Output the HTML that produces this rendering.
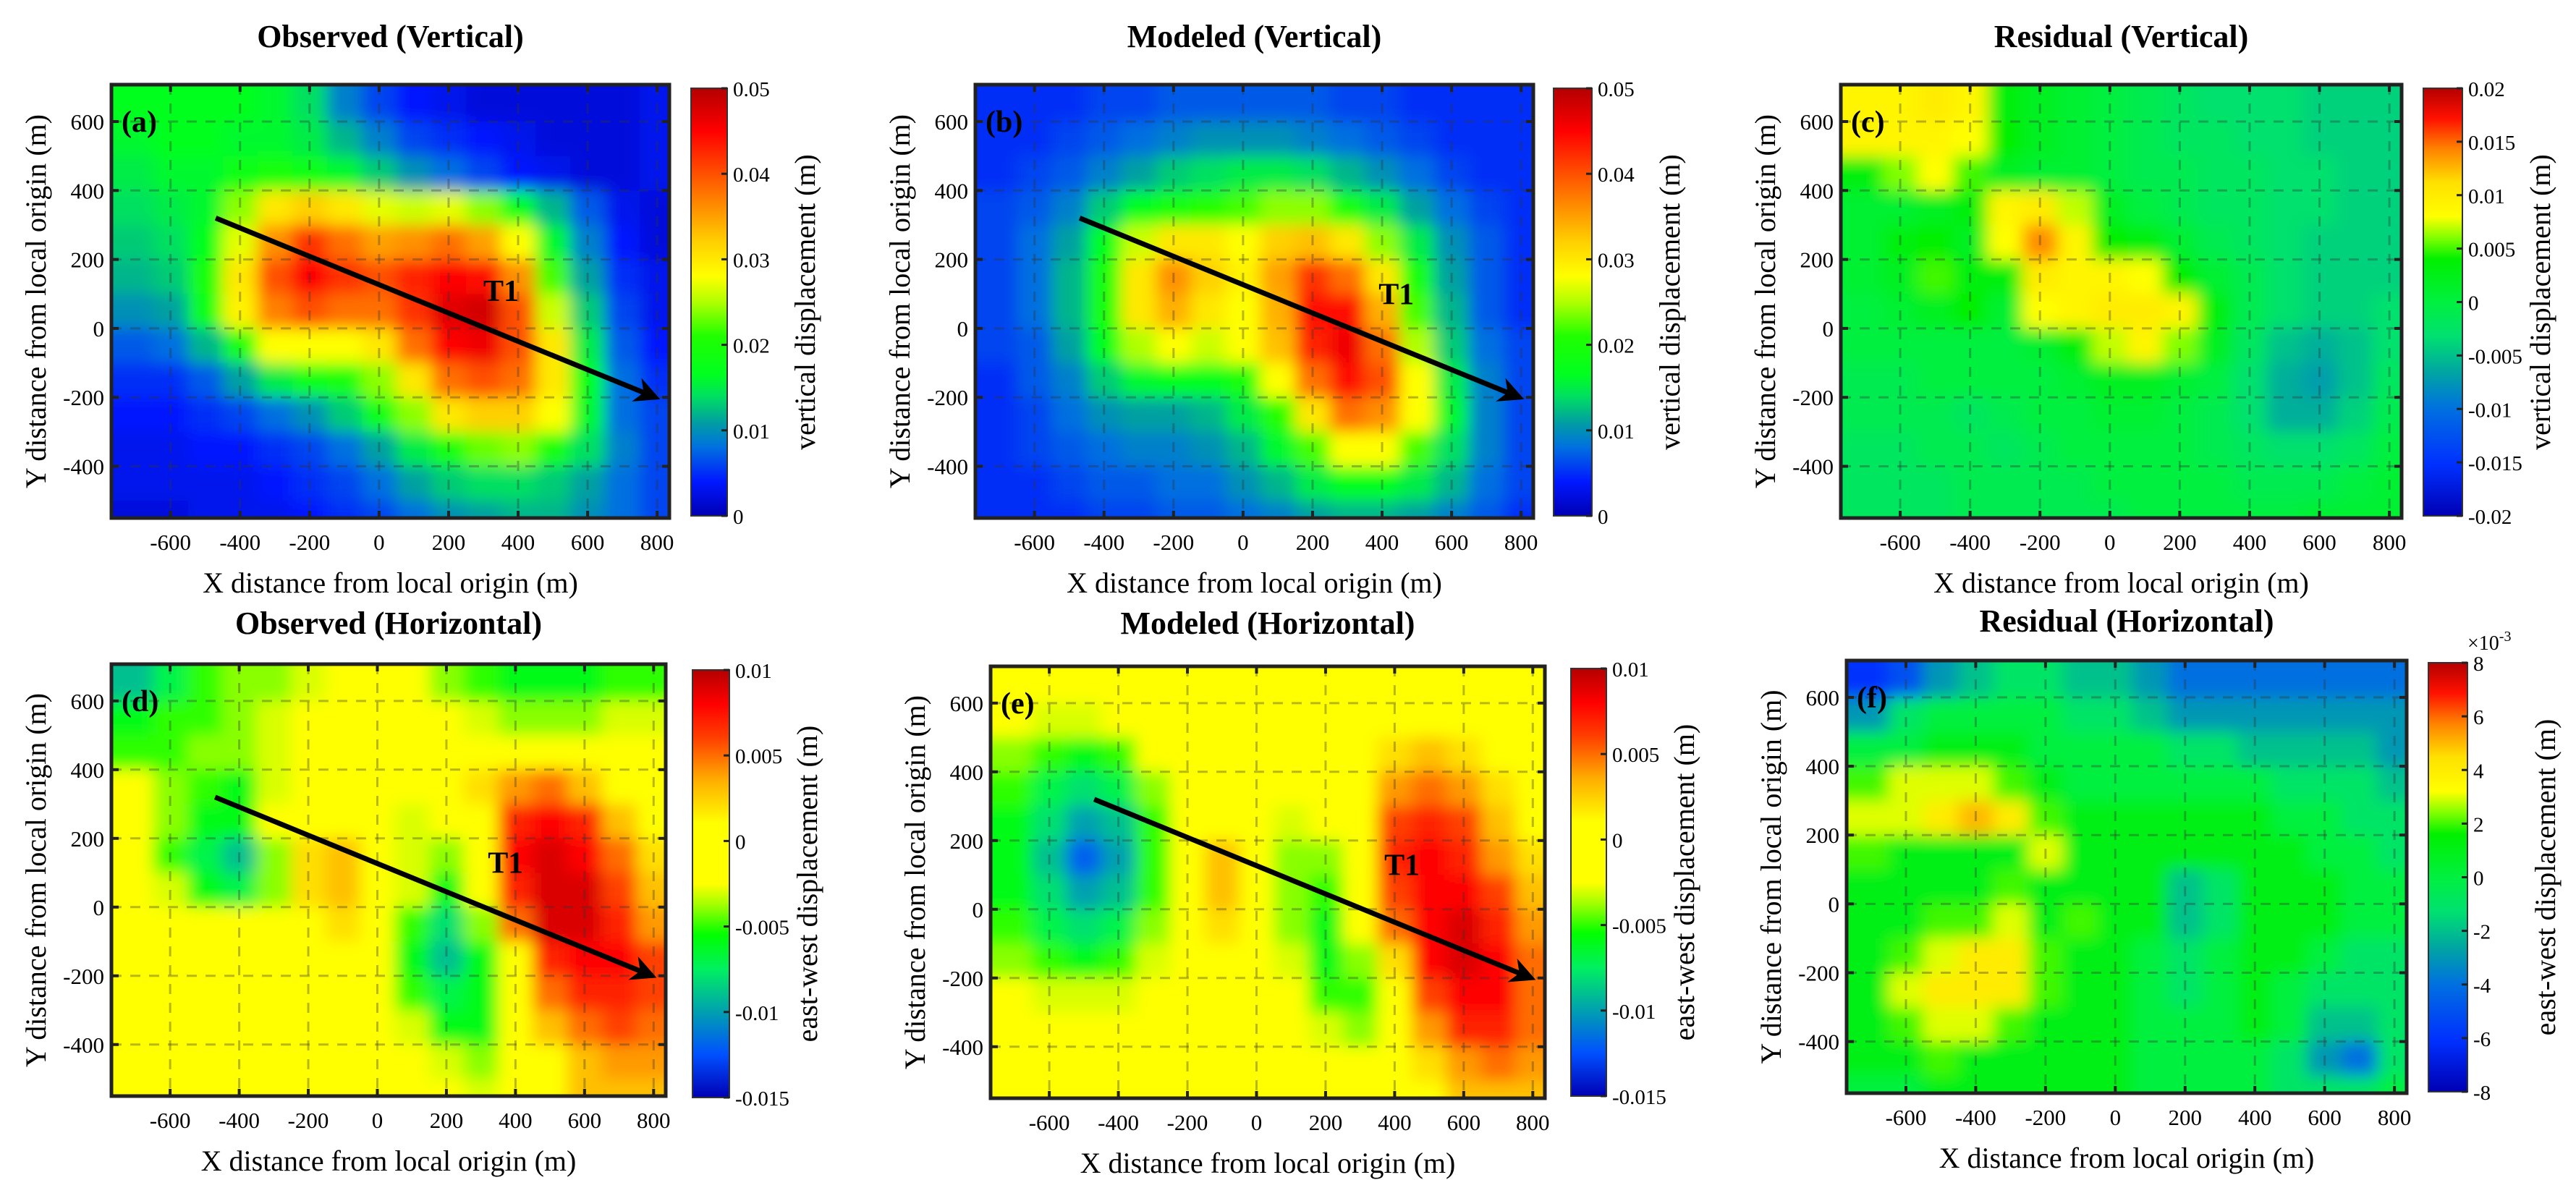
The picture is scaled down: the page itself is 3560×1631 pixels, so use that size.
<!DOCTYPE html>
<html><head><meta charset="utf-8">
<style>
html,body{margin:0;padding:0;background:#fff;}
svg{display:block;font-family:"Liberation Serif","DejaVu Serif",serif;}
</style></head>
<body>
<svg id="fig" width="3560" height="1631" viewBox="0 0 3560 1631" xmlns="http://www.w3.org/2000/svg">
<defs>
<filter id="blur" x="-5%" y="-5%" width="110%" height="110%"><feGaussianBlur stdDeviation="11"/></filter>
<marker id="ah" viewBox="0 0 10 10" refX="8" refY="5" markerWidth="5" markerHeight="5" orient="auto"><path d="M0,0 L10,5 L0,10 L3,5 z" fill="#000"/></marker>
</defs>
</svg>
<script>
// ---- data (cell centres in metres) ----
const xCenters = [-700,-600,-500,-400,-300,-200,-100,0,100,200,300,400,500,600,700,800];
const yCenters = [650,550,450,350,250,150,50,-50,-150,-250,-350,-450,-550];
const xTicks = [-600,-400,-200,0,200,400,600,800];
const yTicks = [-400,-200,0,200,400,600];
// values in mm (×1e-3 m)
const obsVert = [
[17,17,17,17,16,14,9,6,4,3,2,2,2,2,2,3],
[16,17,17,16,16,15,12,9,6,5,4,3,2,2,2,3],
[15,16,16,18,20,18,16,13,10,8,6,4,3,2,2,3],
[14,15,16,24,30,32,30,27,26,27,24,17,12,7,3,2],
[13,14,17,27,36,42,38,35,36,38,35,28,16,9,4,2],
[12,13,20,30,40,45,42,40,43,45,44,36,22,11,5,3],
[10,11,18,29,37,40,38,38,42,47,48,40,26,13,6,3],
[7,8,12,20,28,28,28,30,38,45,46,40,30,15,7,4],
[5,5,7,11,15,18,20,24,30,38,40,38,30,17,8,5],
[4,4,5,6,8,10,13,18,24,30,32,32,28,16,8,6],
[3,3,4,4,5,6,8,11,15,20,23,24,20,14,9,6],
[3,3,3,3,4,5,6,8,11,13,14,14,13,11,8,6],
[2,2,3,3,3,4,5,6,8,10,11,12,12,10,8,6]];
const modVert = [
[5,5,5,6,6,7,7,7,7,7,6,6,5,5,5,5],
[5,5,6,7,8,9,10,10,10,9,8,7,6,5,5,5],
[5,6,7,9,11,13,14,15,15,14,12,10,8,6,5,5],
[6,7,9,13,17,20,21,22,24,24,20,15,11,8,6,5],
[6,8,11,17,26,30,30,28,32,33,30,24,15,10,7,5],
[6,8,12,20,30,36,32,29,35,42,38,30,19,11,7,5],
[6,8,12,20,30,34,30,28,34,44,44,34,22,12,7,5],
[6,7,11,17,25,28,26,28,33,43,46,38,25,13,8,6],
[5,7,9,13,16,17,17,20,28,38,44,40,28,15,9,6],
[5,6,8,10,11,11,12,15,21,30,38,36,28,16,9,6],
[5,6,7,8,9,9,10,12,16,22,28,28,22,14,9,6],
[5,5,6,7,7,8,8,10,12,15,17,17,15,12,8,6],
[5,5,5,6,6,7,7,8,9,11,12,12,11,9,7,5]];
const resVert = [
[9,9,10,9,3,2,1,0,-1,-2,-3,-3,-3,-4,-4,-4],
[9,9,9,8,4,2,1,0,-1,-2,-2,-3,-3,-4,-4,-4],
[3,6,8,5,2,1,1,0,-1,-1,-2,-2,-3,-3,-4,-4],
[1,1,2,3,9,10,7,2,0,-1,-2,-2,-3,-3,-4,-4],
[1,3,4,2,8,14,9,4,3,1,-1,-2,-3,-4,-4,-4],
[1,2,5,3,3,10,9,9,8,4,1,-1,-3,-4,-4,-4],
[0,1,2,4,1,8,9,10,10,9,3,-1,-3,-4,-4,-3],
[0,0,0,0,0,1,3,7,9,6,2,-2,-5,-6,-5,-3],
[-1,-1,0,0,0,0,1,2,2,1,0,-3,-6,-7,-5,-2],
[-1,-1,-1,-2,-1,0,0,1,1,0,-1,-3,-6,-6,-4,-1],
[-2,-2,-1,-1,-2,-1,0,0,0,0,-1,-2,-3,-3,-2,0],
[-2,-2,-2,-1,-1,-1,-1,0,0,0,0,-1,-1,-1,0,1],
[-2,-2,-2,-1,-1,-1,-1,-1,0,0,0,0,0,1,1,1]];
const obsHoriz = [
[-9,-7,-5,-4,-4,-3,-2,-1,-2,-4,-5,-6,-6,-6,-5,-5],
[-6,-5,-5,-4,-3,-2,-1,-1,-1,-2,-3,-4,-4,-4,-3,-3],
[-5,-5,-4,-4,-3,-1,-1,0,0,-1,0,1,-1,-2,-2,-2],
[-1,-4,-5,-6,-3,-1,-1,-2,-1,0,2,4,5,3,0,-1],
[-1,-4,-6,-6,-2,1,0,-2,-3,-2,1,7,8,7,3,0],
[-2,-5,-7,-9,-4,2,3,-1,-3,-4,0,8,9,8,5,2],
[-1,-3,-6,-7,-4,2,3,0,-3,-6,-2,7,9,9,6,3],
[0,-1,-2,-2,0,1,2,-1,-5,-8,-4,5,9,9,7,4],
[0,0,0,0,0,0,0,-1,-6,-9,-6,1,7,8,8,6],
[0,0,1,1,1,0,0,-1,-5,-7,-6,-1,5,7,7,6],
[0,0,0,1,0,0,0,0,-3,-6,-6,-2,3,5,6,5],
[0,0,0,0,0,0,0,0,-1,-3,-4,-2,1,3,4,4],
[0,0,0,0,0,0,0,0,0,-1,-3,-1,1,3,3,3]];
const modHoriz = [
[0,0,0,0,0,0,0,0,0,0,0,0,0,0,0,0],
[-2,-3,-3,-2,-1,0,0,0,0,0,0,1,1,1,0,0],
[-4,-5,-6,-5,-2,0,0,0,0,0,0,2,3,2,1,0],
[-5,-7,-8,-7,-4,0,0,0,-1,-1,1,4,5,4,2,1],
[-6,-8,-10,-9,-5,0,1,0,-3,-2,1,6,7,6,3,1],
[-6,-9,-12,-10,-5,0,3,0,-4,-4,0,7,8,7,4,2],
[-6,-8,-10,-9,-5,0,3,0,-4,-5,-1,6,8,8,6,3],
[-5,-7,-8,-7,-4,0,2,0,-4,-6,-2,5,8,9,7,4],
[-4,-5,-6,-5,-3,0,0,0,-3,-6,-4,2,8,9,8,5],
[-2,-3,-3,-3,-2,0,0,0,-2,-5,-5,0,6,8,8,5],
[-1,-1,-1,-1,0,0,0,0,-1,-3,-4,-1,4,7,7,5],
[0,0,0,0,0,0,0,0,0,-1,-2,-1,2,4,5,4],
[0,0,0,0,0,0,0,0,0,0,0,0,1,3,3,3]];
const resHoriz = [
[-6,-5,-3,-2,-1,-1,-2,-2,-3,-4,-4,-4,-4,-4,-4,-4],
[-3,-1,0,0,0,0,-1,-1,-2,-3,-3,-3,-3,-3,-3,-3],
[0,0,1,1,1,0,0,0,0,-1,-1,-2,-2,-2,-2,-3],
[2,3,3,3,2,1,0,0,0,0,0,0,-1,-1,-1,-2],
[3,3,4,5,4,2,1,1,1,1,1,1,0,0,-1,-1],
[2,1,1,1,1,3,1,1,1,1,1,1,1,0,0,-1],
[1,1,1,1,2,1,1,1,1,-2,-1,1,1,1,0,0],
[1,1,2,2,3,1,2,1,1,-2,-1,1,1,1,0,0],
[1,2,3,4,4,2,1,1,0,-1,0,1,1,0,-1,-1],
[1,3,4,4,4,2,1,1,0,-1,0,1,0,-1,-1,-1],
[1,2,3,3,2,1,1,1,0,0,0,1,0,-2,-2,-1],
[1,1,2,1,1,1,1,1,0,0,0,0,-1,-3,-4,-1],
[0,0,1,1,1,1,1,1,0,0,0,0,-1,-1,-1,0]];
const vertTicks = [0,10,20,30,40,50];
const vertTickLabels = ["0","0.01","0.02","0.03","0.04","0.05"];
const resVertTicks = [-20,-15,-10,-5,0,5,10,15,20];
const resVertTickLabels = ["-0.02","-0.015","-0.01","-0.005","0","0.005","0.01","0.015","0.02"];
const horizTicks = [-15,-10,-5,0,5,10];
const horizTickLabels = ["-0.015","-0.01","-0.005","0","0.005","0.01"];
const resHorizTicks = [-8,-6,-4,-2,0,2,4,6,8];
const resHorizTickLabels = ["-8","-6","-4","-2","0","2","4","6","8"];
const arrowStart = [-470,320];
const arrowEnd = [795,-200];

// ---- colormaps ----
const cmapV = [[0,'#0000b4'],[0.08,'#0018ff'],[0.16,'#0070e0'],[0.22,'#00a0a0'],[0.28,'#00e060'],[0.33,'#00ff20'],[0.42,'#20ff00'],[0.5,'#b0ff00'],[0.56,'#ffff00'],[0.64,'#ffd000'],[0.72,'#ff9000'],[0.82,'#ff4000'],[0.9,'#ff0000'],[1,'#b40000']];
const cmapR = [[0,'#0000b4'],[0.12,'#0030ff'],[0.25,'#0070e0'],[0.34,'#00a8a0'],[0.42,'#00e070'],[0.5,'#00f040'],[0.6,'#00f000'],[0.65,'#80ff00'],[0.7,'#ffff00'],[0.78,'#ffe000'],[0.86,'#ff8000'],[0.93,'#ff1000'],[1,'#b40000']];
const cmapH = [[0,'#0000b4'],[0.1,'#0050ff'],[0.2,'#00a0b0'],[0.3,'#00f060'],[0.38,'#00ff00'],[0.45,'#a0ff00'],[0.5,'#ffff00'],[0.64,'#ffff00'],[0.74,'#ffb000'],[0.84,'#ff4000'],[0.92,'#ff0000'],[1,'#b40000']];

function hex(c){return [parseInt(c.slice(1,3),16),parseInt(c.slice(3,5),16),parseInt(c.slice(5,7),16)];}
function cmapColor(cm,f){
  f=Math.max(0,Math.min(1,f));
  for(let i=1;i<cm.length;i++){
    if(f<=cm[i][0]){const a=hex(cm[i-1][1]),b=hex(cm[i][1]);const t=(f-cm[i-1][0])/(cm[i][0]-cm[i-1][0]);
      return 'rgb('+a.map((v,k)=>Math.round(v+(b[k]-v)*t)).join(',')+')';}
  }
  return cm[cm.length-1][1];
}

const panels = [
 {key:'a',title:'Observed (Vertical)',data:obsVert,cm:cmapV,vmin:0,vmax:50,ticks:vertTicks,labels:vertTickLabels,cbl:'vertical displacement (m)',L:154,R:925,T:117,B:716,cL:955,cR:1005,cT:122,cB:713,titleY:50,arrow:true,t1:[300,80]},
 {key:'b',title:'Modeled (Vertical)',data:modVert,cm:cmapV,vmin:0,vmax:50,ticks:vertTicks,labels:vertTickLabels,cbl:'vertical displacement (m)',L:1348,R:2119,T:117,B:716,cL:2147,cR:2200,cT:122,cB:713,titleY:50,arrow:true,t1:[390,70]},
 {key:'c',title:'Residual (Vertical)',data:resVert,cm:cmapR,vmin:-20,vmax:20,ticks:resVertTicks,labels:resVertTickLabels,cbl:'vertical displacement (m)',L:2544,R:3319,T:117,B:716,cL:3349,cR:3403,cT:122,cB:713,titleY:50,arrow:false},
 {key:'d',title:'Observed (Horizontal)',data:obsHoriz,cm:cmapH,vmin:-15,vmax:10,ticks:horizTicks,labels:horizTickLabels,cbl:'east-west displacement (m)',L:154,R:920,T:918,B:1515,cL:957,cR:1008,cT:926,cB:1517,titleY:861,arrow:true,t1:[320,100]},
 {key:'e',title:'Modeled (Horizontal)',data:modHoriz,cm:cmapH,vmin:-15,vmax:10,ticks:horizTicks,labels:horizTickLabels,cbl:'east-west displacement (m)',L:1369,R:2135,T:921,B:1518,cL:2171,cR:2220,cT:924,cB:1515,titleY:861,arrow:true,t1:[370,100]},
 {key:'f',title:'Residual (Horizontal)',data:resHoriz,cm:cmapR,vmin:-8,vmax:8,ticks:resHorizTicks,labels:resHorizTickLabels,cbl:'east-west displacement (m)',L:2552,R:3326,T:913,B:1511,cL:3356,cR:3410,cT:916,cB:1509,titleY:858,arrow:false,exp:true}
];
const X0=-770,X1=835,Y0=-550,Y1=707;
const NS='http://www.w3.org/2000/svg';
const svg=document.getElementById('fig');
const defs=svg.querySelector('defs');
function mk(tag,attrs,parent){const e=document.createElementNS(NS,tag);for(const k in attrs)e.setAttribute(k,attrs[k]);(parent||svg).appendChild(e);return e;}

panels.forEach(p=>{
  const xs=v=>p.L+(v-X0)/(X1-X0)*(p.R-p.L);
  const ys=v=>p.B-(v-Y0)/(Y1-Y0)*(p.B-p.T);
  const g=mk('g',{});
  
  
  const cp=mk('clipPath',{id:'clip'+p.key},defs);
  mk('rect',{x:p.L,y:p.T,width:p.R-p.L,height:p.B-p.T},cp);
  const hg=mk('g',{'clip-path':'url(#clip'+p.key+')'},g);
  
  
  const bg=mk('g',{filter:'url(#blur)'},hg);
  const nr=yCenters.length,nc=xCenters.length;
  for(let j=0;j<nr;j++){for(let i=0;i<nc;i++){
    let x0=xs(xCenters[i]-50),x1=xs(xCenters[i]+50),y0=ys(yCenters[j]+50),y1=ys(yCenters[j]-50);
    if(i===0)x0-=80; if(i===nc-1)x1+=80; if(j===0)y0-=80; if(j===nr-1)y1+=80;
    const f=(p.data[j][i]-p.vmin)/(p.vmax-p.vmin);
    const r=mk('rect',{x:x0,y:y0,width:x1-x0+0.5,height:y1-y0+0.5,fill:cmapColor(p.cm,f)},bg);
    
    
  }}
  xTicks.forEach(t=>{const l=mk('line',{x1:xs(t),x2:xs(t),y1:p.T,y2:p.B,stroke:'#333','stroke-opacity':0.35,'stroke-width':3,'stroke-dasharray':'14 12'},g);
    });
  yTicks.forEach(t=>{const l=mk('line',{x1:p.L,x2:p.R,y1:ys(t),y2:ys(t),stroke:'#333','stroke-opacity':0.35,'stroke-width':3,'stroke-dasharray':'14 12'},g);
    });
  const fr=mk('rect',{x:p.L,y:p.T,width:p.R-p.L,height:p.B-p.T,fill:'none',stroke:'#222','stroke-width':5},g);
  
  xTicks.forEach(t=>{
    mk('line',{x1:xs(t),x2:xs(t),y1:p.B,y2:p.B-10,stroke:'#222','stroke-width':4},g);
    mk('line',{x1:xs(t),x2:xs(t),y1:p.T,y2:p.T+10,stroke:'#222','stroke-width':4},g);
    const tx=mk('text',{x:xs(t),y:p.B+44,'text-anchor':'middle','font-size':31},g);tx.textContent=String(t);
    
  });
  yTicks.forEach(t=>{
    mk('line',{x1:p.L,x2:p.L+10,y1:ys(t),y2:ys(t),stroke:'#222','stroke-width':4},g);
    mk('line',{x1:p.R,x2:p.R-10,y1:ys(t),y2:ys(t),stroke:'#222','stroke-width':4},g);
    const tx=mk('text',{x:p.L-10,y:ys(t)+11,'text-anchor':'end','font-size':31},g);tx.textContent=String(t);
    
  });
  const xl=mk('text',{x:(p.L+p.R)/2,y:p.B+103,'text-anchor':'middle','font-size':40},g);xl.textContent='X distance from local origin (m)';
  
  const ylx=p.L-100,yly=(p.T+p.B)/2;
  const yl=mk('text',{x:ylx,y:yly,'text-anchor':'middle','font-size':40,transform:'rotate(-90 '+ylx+' '+yly+')','dominant-baseline':'middle'},g);yl.textContent='Y distance from local origin (m)';
  
  const ti=mk('text',{x:(p.L+p.R)/2,y:p.titleY+15,'text-anchor':'middle','font-size':44,'font-weight':'bold'},g);ti.textContent=p.title;
  
  const lt=mk('text',{x:p.L+14,y:ys(600)+14,'font-size':42,'font-weight':'bold'},g);lt.textContent='('+p.key+')';
  
  if(p.arrow){
    const ar=mk('line',{x1:xs(arrowStart[0]),y1:ys(arrowStart[1]),x2:xs(arrowEnd[0]),y2:ys(arrowEnd[1]),stroke:'#000','stroke-width':7,'marker-end':'url(#ah)'},g);
    
    const t1=mk('text',{x:xs(p.t1[0]),y:ys(p.t1[1]),'font-size':42,'font-weight':'bold'},g);t1.textContent='T1';
    
  }
  const gid='grad'+p.key;
  const lg=mk('linearGradient',{id:gid,x1:0,y1:1,x2:0,y2:0},defs);
  p.cm.forEach(s=>mk('stop',{offset:s[0],'stop-color':s[1]},lg));
  const cb=mk('rect',{x:p.cL,y:p.cT,width:p.cR-p.cL,height:p.cB-p.cT,fill:'url(#'+gid+')',stroke:'#333','stroke-width':2},g);
  
  const cs=v=>p.cB-(v-p.vmin)/(p.vmax-p.vmin)*(p.cB-p.cT);
  p.ticks.forEach((t,k)=>{
    mk('line',{x1:p.cR,x2:p.cR-8,y1:cs(t),y2:cs(t),stroke:'#222','stroke-width':3},g);
    const tx=mk('text',{x:p.cR+8,y:cs(t)+11,'font-size':29},g);tx.textContent=p.labels[k];
    
  });
  const clx=p.cR+112,cly=(p.cT+p.cB)/2;
  const cl=mk('text',{x:clx,y:cly,'text-anchor':'middle','font-size':40,'dominant-baseline':'middle',transform:'rotate(-90 '+clx+' '+cly+')'},g);cl.textContent=p.cbl;
  
  if(p.exp){
    const ex=mk('text',{x:p.cR,y:p.cT-18,'font-size':28},g);ex.innerHTML='×10<tspan dy="-12" font-size="20">-3</tspan>';
    
  }
});
</script>
</body></html>
